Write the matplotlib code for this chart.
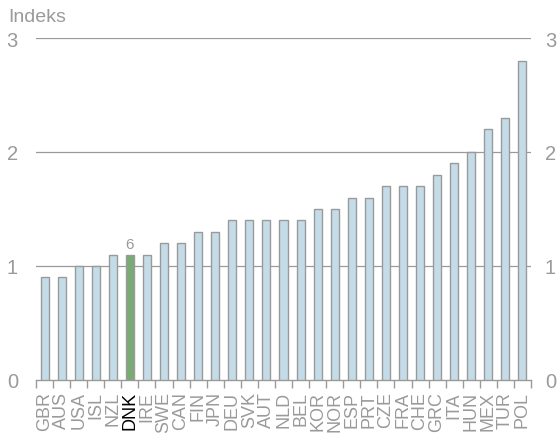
import matplotlib
matplotlib.use("Agg")
import matplotlib.pyplot as plt
import numpy as np

plt.rcParams['font.family'] = ['Liberation Sans', 'DejaVu Sans']

lande = ["GBR", "AUS", "USA", "ISL", "NZL", "DNK", "IRE", "SWE", "CAN", "FIN",
         "JPN", "DEU", "SVK", "AUT", "NLD", "BEL", "KOR", "NOR", "ESP", "PRT",
         "CZE", "FRA", "CHE", "GRC", "ITA", "HUN", "MEX", "TUR", "POL"]
vaerdier = [0.9, 0.9, 1.0, 1.0, 1.1, 1.1, 1.1, 1.2, 1.2, 1.3,
            1.3, 1.4, 1.4, 1.4, 1.4, 1.4, 1.5, 1.5, 1.6, 1.6,
            1.7, 1.7, 1.7, 1.8, 1.9, 2.0, 2.2, 2.3, 2.8]
fremhaev = "DNK"
rang_tekst = "6"
yticks = [0, 1, 2, 3]

graa = "#9a9a9a"
blaa = "#c3dce8"
groen = "#7aab74"

fig = plt.figure(figsize=(5.59, 4.35), dpi=100)
ax = fig.add_axes([36/559, 54/435, 495/559, 342/435])

x = np.arange(len(lande))
farver = [groen if l == fremhaev else blaa for l in lande]
ax.bar(x, vaerdier, width=0.47, color=farver, edgecolor=graa, linewidth=1, zorder=3)

i = lande.index(fremhaev)
ax.text(x[i], vaerdier[i] + 0.03, rang_tekst, ha="center", va="bottom",
        color=graa, fontsize=11)

ax.set_xlim(-0.5, len(lande) - 0.5)
ax.set_ylim(0, 3)
for yv in yticks[1:]:
    ax.axhline(yv, color=graa, linewidth=0.9, zorder=1)

for s in ["top", "right", "left"]:
    ax.spines[s].set_visible(False)
ax.spines["bottom"].set_color(graa)
ax.spines["bottom"].set_linewidth(1)

ax.set_xticks(np.arange(-0.5, len(lande), 1.0))
ax.set_xticklabels([])
ax.set_xticks(x, minor=True)
ax.set_xticklabels(lande, minor=True, rotation=90)
ax.tick_params(axis="x", which="major", length=6, width=1, color=graa)
ax.tick_params(axis="x", which="minor", length=0, pad=8, labelsize=13, labelcolor=graa)
for lbl in ax.get_xticklabels(minor=True):
    if lbl.get_text() == fremhaev:
        lbl.set_color("black")

ax.set_yticks(yticks)
ax.tick_params(axis="y", length=0, labelsize=14.5, labelcolor=graa, pad=13)

ax2 = ax.twinx()
ax2.set_ylim(0, 3)
ax2.set_yticks(yticks)
for s in ["top", "right", "left", "bottom"]:
    ax2.spines[s].set_visible(False)
ax2.tick_params(axis="y", length=0, labelsize=14.5, labelcolor=graa, pad=10)

fig.text(8/559, 1 - 17/435, "Indeks", fontsize=14, color=graa, va="center", ha="left")

fig.savefig("out.png", dpi=100)
